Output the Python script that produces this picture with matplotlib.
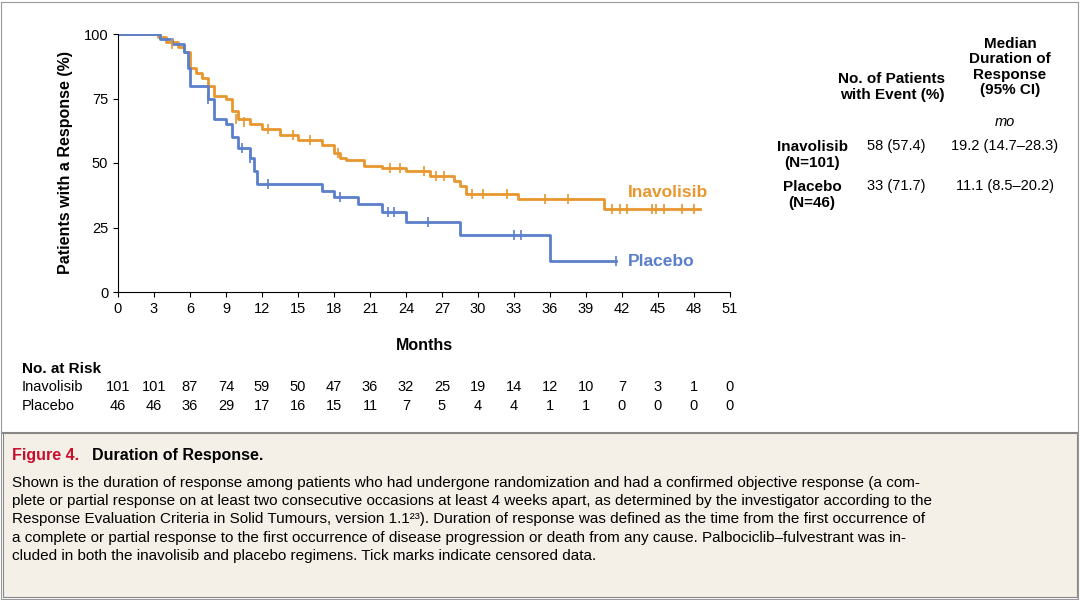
import matplotlib.pyplot as plt

plt.rcParams['font.family'] = ['Liberation Sans', 'DejaVu Sans']

ORANGE = '#E8962E'
BLUE = '#5B7FCB'

# step curves (month, % still responding)
inv_t = [0, 3, 3.3, 4, 5, 5.5, 6, 6.5, 7, 7.5, 8, 9, 9.5, 10, 11, 12, 13.5, 15, 17, 18, 18.5, 19, 20.5, 22, 24, 26, 28, 28.5, 29, 33.3, 40.5, 48.5]
inv_s = [100, 100, 99, 97, 95, 93, 87, 85, 83, 80, 76, 75, 70, 67, 65, 63, 61, 59, 57, 54, 52, 51, 49, 48, 47, 45, 43, 41, 38, 36, 32, 32]
inv_cens = [(4.5, 96), (9.8, 67), (10.5, 66), (12.5, 63), (14.6, 61), (16, 59), (18.3, 54), (22.7, 48), (23.5, 48), (25.5, 47),
            (26.5, 45), (27.2, 45), (29.5, 38), (30.4, 38), (32.4, 38), (35.6, 36), (37.5, 36), (41.2, 32), (41.8, 32), (42.4, 32),
            (44.5, 32), (44.8, 32), (45.5, 32), (47, 32), (48, 32)]
pla_t = [0, 3, 3.5, 4.5, 5.5, 5.8, 6, 7.5, 8, 9, 9.5, 10, 11, 11.3, 11.6, 17, 18, 20, 22, 24, 28.5, 36, 41.5]
pla_s = [100, 100, 98, 96, 93, 87, 80, 75, 67, 65, 60, 56, 52, 47, 42, 39, 37, 34, 31, 27, 22, 12, 12]
pla_cens = [(7.5, 75), (10.3, 56), (11, 52), (12.5, 42), (18.5, 37), (22.5, 31), (23, 31), (25.8, 27), (33, 22), (33.6, 22), (41.5, 12)]

months = list(range(0, 52, 3))
inv_risk = [101, 101, 87, 74, 59, 50, 47, 36, 32, 25, 19, 14, 12, 10, 7, 3, 1, 0]
pla_risk = [46, 46, 36, 29, 17, 16, 15, 11, 7, 5, 4, 4, 1, 1, 0, 0, 0, 0]

fig = plt.figure(figsize=(10.8, 6.0), dpi=100)
fig.patch.set_facecolor('white')
frame = fig.add_axes([1 / 1080, 1 / 600, 1077 / 1080, 597 / 600])
frame.set_xticks([])
frame.set_yticks([])
frame.patch.set_alpha(0)
for s in frame.spines.values():
    s.set_color('#999999')

ax = fig.add_axes([118 / 1080, 1 - 292 / 600, 612 / 1080, 258 / 600])
ax.step(inv_t, inv_s, where='post', color=ORANGE, lw=2)
ax.step(pla_t, pla_s, where='post', color=BLUE, lw=2)
ax.plot(*zip(*inv_cens), ls='none', marker='|', ms=7, color=ORANGE, mew=1.2)
ax.plot(*zip(*pla_cens), ls='none', marker='|', ms=7, color=BLUE, mew=1.2)
ax.set_xlim(0, 51)
ax.set_ylim(0, 100)
ax.set_xticks(months)
ax.set_yticks([0, 25, 50, 75, 100])
for s in ['top', 'right']:
    ax.spines[s].set_visible(False)
ax.tick_params(labelsize=10.5)
ax.set_xlabel('Months', fontsize=11.5, fontweight='bold', labelpad=16)
ax.set_ylabel('Patients with a Response (%)', fontsize=11.5, fontweight='bold', labelpad=8)
ax.text(42.5, 37, 'Inavolisib', color=ORANGE, fontsize=12.5, fontweight='bold')
ax.text(42.5, 12, 'Placebo', color=BLUE, fontsize=12.5, fontweight='bold', va='center')

# numbers at risk
fig.text(22 / 1080, 1 - 369 / 600, 'No. at Risk', fontsize=11, fontweight='bold', va='center')
for lab, row, y in [('Inavolisib', inv_risk, 387), ('Placebo', pla_risk, 406)]:
    fig.text(22 / 1080, 1 - y / 600, lab, fontsize=10.5, va='center')
    for m, n in zip(months, row):
        x = ax.transData.transform((m, 0))[0]
        fig.text(x / 1080, 1 - y / 600, str(n), fontsize=10.5, va='center', ha='center')

# table on right
fig.text(892 / 1080, 1 - 87 / 600, 'No. of Patients\nwith Event (%)', fontsize=11, fontweight='bold', ha='center', va='center')
fig.text(1010 / 1080, 1 - 67 / 600, 'Median\nDuration of\nResponse\n(95% CI)', fontsize=11, fontweight='bold', ha='center', va='center', linespacing=1.15)
fig.text(1005 / 1080, 1 - 122 / 600, 'mo', fontsize=10.5, style='italic', ha='center', va='center')
fig.text(812 / 1080, 1 - 155 / 600, 'Inavolisib\n(N=101)', fontsize=11, fontweight='bold', ha='center', va='center')
fig.text(812 / 1080, 1 - 195 / 600, 'Placebo\n(N=46)', fontsize=11, fontweight='bold', ha='center', va='center')
fig.text(896 / 1080, 1 - 146 / 600, '58 (57.4)', fontsize=10.5, ha='center', va='center')
fig.text(1005 / 1080, 1 - 146 / 600, '19.2 (14.7\u201328.3)', fontsize=10.5, ha='center', va='center')
fig.text(896 / 1080, 1 - 186 / 600, '33 (71.7)', fontsize=10.5, ha='center', va='center')
fig.text(1005 / 1080, 1 - 186 / 600, '11.1 (8.5\u201320.2)', fontsize=10.5, ha='center', va='center')

# caption box
cap = fig.add_axes([3 / 1080, 3 / 600, 1074 / 1080, 164 / 600])
cap.set_facecolor('#F4F0E8')
cap.set_xticks([])
cap.set_yticks([])
for s in cap.spines.values():
    s.set_color('#888888')
cap.spines['top'].set_linewidth(1.5)
t1 = cap.text(0.008, 0.86, 'Figure 4.', color='#C8102E', fontsize=11.5, fontweight='bold', va='center', transform=cap.transAxes)
cap.text(0.083, 0.86, 'Duration of Response.', fontsize=11.5, fontweight='bold', va='center', transform=cap.transAxes)
caption = ('Shown is the duration of response among patients who had undergone randomization and had a confirmed objective response (a com-\n'
           'plete or partial response on at least two consecutive occasions at least 4 weeks apart, as determined by the investigator according to the\n'
           'Response Evaluation Criteria in Solid Tumours, version 1.1\u00b2\u00b3). Duration of response was defined as the time from the first occurrence of\n'
           'a complete or partial response to the first occurrence of disease progression or death from any cause. Palbociclib\u2013fulvestrant was in-\n'
           'cluded in both the inavolisib and placebo regimens. Tick marks indicate censored data.')
cap.text(0.008, 0.74, caption, fontsize=11, va='top', linespacing=1.4, transform=cap.transAxes)

fig.savefig('out.png', dpi=100)
